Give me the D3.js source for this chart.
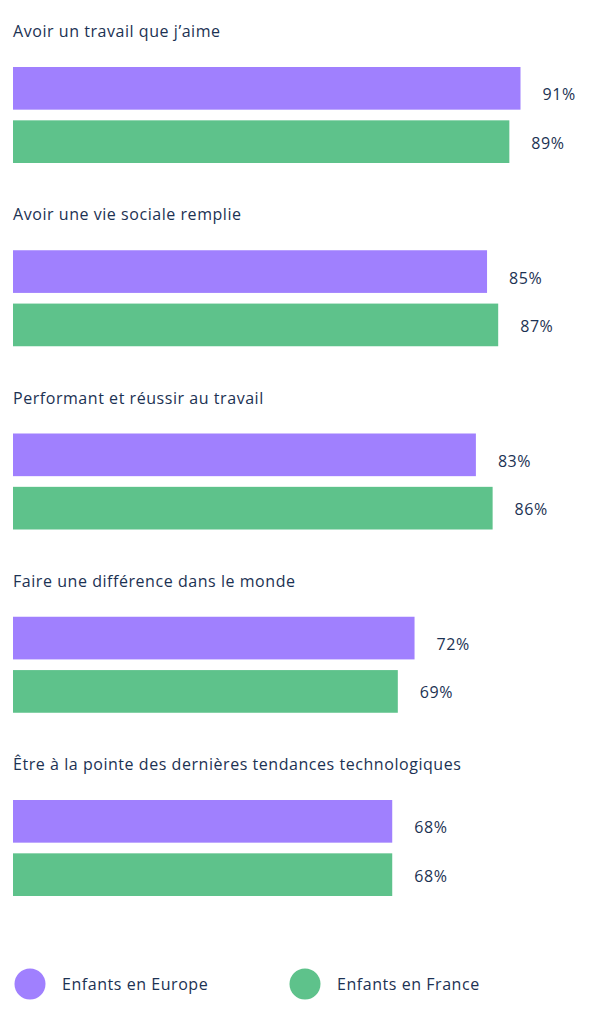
<!DOCTYPE html>
<html><head><meta charset="utf-8">
<script src="https://cdn.jsdelivr.net/npm/d3@7"></script>
<style>body{margin:0;background:#fff}svg{display:block}</style>
</head><body>
<script>
const categories = [
  "Avoir un travail que j’aime",
  "Avoir une vie sociale remplie",
  "Performant et réussir au travail",
  "Faire une différence dans le monde",
  "Être à la pointe des dernières tendances technologiques"
];
const seriesNames = ["Enfants en Europe", "Enfants en France"];
const europe = [91, 85, 83, 72, 68];
const france = [89, 87, 86, 69, 68];
const colors = ["#a080fe", "#5ec28b"];

const W = 608, H = 1024;
const textColor = "#1c3253";
const font = "'Open Sans', sans-serif";
const fs = 16, ls = 0.55;
const svg = d3.select("body").append("svg").attr("width", W).attr("height", H);

const x = d3.scaleLinear().domain([0, 100]).range([13, 13 + 557.7]);
const yGroup = d3.scaleBand().domain(categories).range([18, 18 + 183.25 * 5]).paddingInner(0).paddingOuter(0);
const ySeries = d3.scaleBand().domain([0, 1]).range([49, 145]).paddingInner(0.2).paddingOuter(0);

const data = categories.map((c, i) => ({ cat: c, vals: [europe[i], france[i]] }));

const g = svg.selectAll("g.grp").data(data).join("g").attr("class", "grp")
  .attr("transform", d => `translate(0,${yGroup(d.cat)})`);

g.append("text").attr("x", 13).attr("y", 19)
  .attr("font-family", font).attr("font-size", fs).attr("fill", textColor)
  .attr("letter-spacing", ls)
  .text(d => d.cat);

const bars = g.selectAll("g.bar").data(d => d.vals.map((v, k) => ({ v, k }))).join("g").attr("class", "bar");
bars.append("rect")
  .attr("x", x(0)).attr("y", d => ySeries(d.k))
  .attr("width", d => x(d.v) - x(0)).attr("height", ySeries.bandwidth())
  .attr("fill", d => colors[d.k]);
bars.append("text")
  .attr("x", d => x(d.v) + 22).attr("y", d => ySeries(d.k) + ySeries.bandwidth() / 2 + 5 + (d.k === 0 ? 7 : 2))
  .attr("font-family", font).attr("font-size", fs).attr("fill", textColor)
  .attr("letter-spacing", ls)
  .text(d => d.v + "%");

const legX = [30, 305];
const leg = svg.selectAll("g.leg").data(seriesNames).join("g").attr("class", "leg")
  .attr("transform", (d, i) => `translate(${legX[i]},${984})`);
leg.append("circle").attr("r", 15.5).attr("fill", (d, i) => colors[i]);
leg.append("text").attr("x", 32).attr("y", 5.5)
  .attr("font-family", font).attr("font-size", fs).attr("fill", textColor)
  .attr("letter-spacing", ls)
  .text(d => d);
</script>
</body></html>
